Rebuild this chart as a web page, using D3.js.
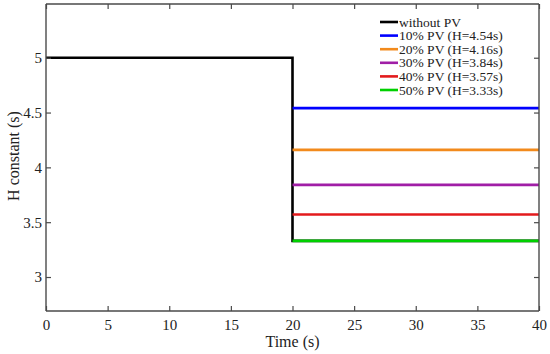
<!DOCTYPE html>
<html>
<head>
<meta charset="utf-8">
<script src="https://cdn.jsdelivr.net/npm/d3@7"></script>
<style>
  body { margin: 0; background: #fff; }
  text { font-family: "Liberation Serif", "Times New Roman", serif; fill: #222; }
</style>
</head>
<body>
<svg width="550" height="354"></svg>
<script>
// data
const seriesNames = ["without PV", "10% PV (H=4.54s)", "20% PV (H=4.16s)", "30% PV (H=3.84s)", "40% PV (H=3.57s)", "50% PV (H=3.33s)"];
const seriesColors = ["#000000", "#0000ff", "#f28a1c", "#a01ea6", "#e31a1c", "#00d000"];
const stepTime = 20;
const endTime = 40;
const hBefore = 5;
const hAfter = [3.33, 4.54, 4.16, 3.84, 3.57, 3.33];
const xTicks = [0, 5, 10, 15, 20, 25, 30, 35, 40];
const yTicks = [3, 3.5, 4, 4.5, 5];

const svg = d3.select("svg");
const mLeft = 46, mRight = 539, mTop = 4, mBottom = 311;

const x = d3.scaleLinear().domain([0, 40]).range([mLeft, mRight]);
const y = d3.scaleLinear().domain([2.69, 5.49]).range([mBottom, mTop]);

// build the lines
const lines = seriesNames.map(function(name, i) {
    let pts;
    if (i === 0) {
        pts = [[0, hBefore], [stepTime, hBefore], [stepTime, hAfter[i]], [endTime, hAfter[i]]];
    } else {
        pts = [[stepTime, hAfter[i]], [endTime, hAfter[i]]];
    }
    return { name: name, color: seriesColors[i], pts: pts };
});

const line = d3.line()
    .x(function(d) { return x(d[0]); })
    .y(function(d) { return y(d[1]); });

// draw colored after black so they sit on top
svg.selectAll("path.series")
    .data(lines)
    .join("path")
    .attr("class", "series")
    .attr("d", function(d) { return line(d.pts); })
    .attr("fill", "none")
    .attr("stroke", function(d) { return d.color; })
    .attr("stroke-width", 2.6);

// axes with inward ticks, box on all sides
const axisColor = "#4a4a4a";
const xAxis = svg.append("g")
    .attr("transform", "translate(0," + mBottom + ")")
    .call(d3.axisBottom(x).tickValues(xTicks).tickSize(-5).tickPadding(8).tickFormat(d3.format("d")));
const xTop = svg.append("g")
    .attr("transform", "translate(0," + mTop + ")")
    .call(d3.axisTop(x).tickValues(xTicks).tickSize(-5).tickFormat(""));
const yAxis = svg.append("g")
    .attr("transform", "translate(" + mLeft + ",0)")
    .call(d3.axisLeft(y).tickValues(yTicks).tickSize(-5).tickPadding(4).tickFormat(function(d) { return d; }));
const yRight = svg.append("g")
    .attr("transform", "translate(" + mRight + ",0)")
    .call(d3.axisRight(y).tickValues(yTicks).tickSize(-5).tickFormat(""));

[xAxis, xTop, yAxis, yRight].forEach(function(g) {
    g.attr("font-family", "Liberation Serif").attr("font-size", 15);
    g.select(".domain").attr("stroke", axisColor).attr("stroke-width", 1.4);
    g.selectAll(".tick line").attr("stroke", axisColor).attr("stroke-width", 1.2);
    g.selectAll(".tick text").attr("fill", "#222");
});
// plain box edges (no end caps)
xTop.select(".domain").attr("d", "M" + mLeft + ",0H" + mRight);
yRight.select(".domain").attr("d", "M0," + mTop + "V" + mBottom);
xAxis.select(".domain").attr("d", "M" + mLeft + ",0H" + mRight);
yAxis.select(".domain").attr("d", "M0," + mTop + "V" + mBottom);

// axis titles
svg.append("text")
    .attr("x", (mLeft + mRight) / 2)
    .attr("y", 347)
    .attr("text-anchor", "middle")
    .style("font-size", "16px")
    .text("Time (s)");

svg.append("text")
    .attr("transform", "translate(19,156) rotate(-90)")
    .attr("text-anchor", "middle")
    .style("font-size", "16px")
    .text("H constant (s)");

// legend
const legend = svg.append("g").attr("transform", "translate(380,22)");
const rows = legend.selectAll("g")
    .data(lines)
    .join("g")
    .attr("transform", function(d, i) { return "translate(0," + (i * 13.6) + ")"; });
rows.append("line")
    .attr("x1", 0).attr("x2", 18)
    .attr("stroke", function(d) { return d.color; })
    .attr("stroke-width", 2.6);
rows.append("text")
    .attr("x", 19)
    .attr("y", 4.5)
    .style("font-size", "13.5px")
    .text(function(d) { return d.name; });
</script>
</body>
</html>
